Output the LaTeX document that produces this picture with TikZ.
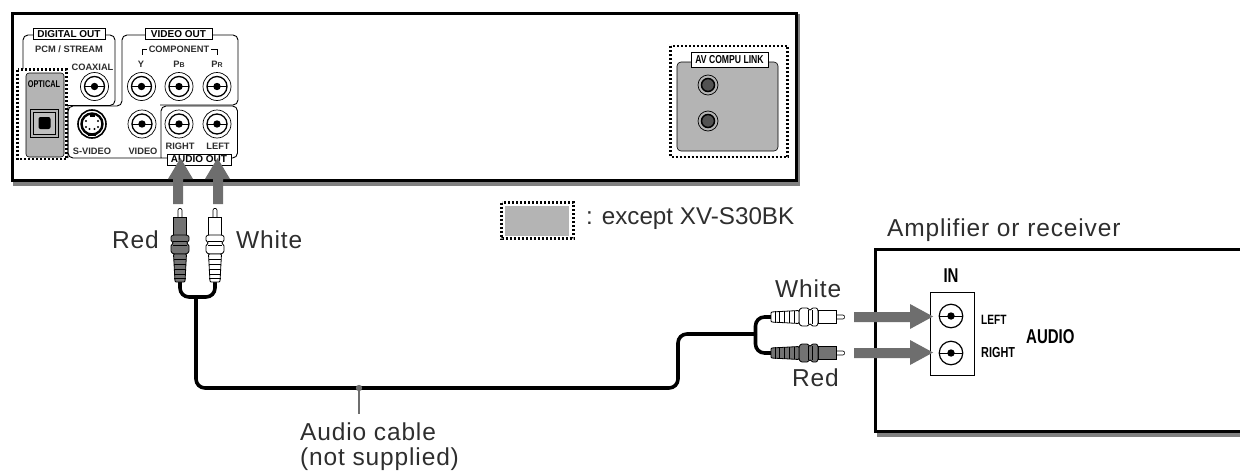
\documentclass[tikz,border=0pt]{standalone}
\usepackage{fontspec}
\setmainfont{Liberation Sans}
\newfontfamily\lblfont[LetterSpace=3.5]{Liberation Sans}
\newfontfamily\condfont[FakeStretch=0.75]{Liberation Sans Bold}
\newfontfamily\boldfont{Liberation Sans Bold}
\definecolor{panel}{HTML}{B4B4B4}
\definecolor{shade}{HTML}{808080}
\definecolor{arrowgray}{HTML}{6E6E6E}
\definecolor{lbl}{HTML}{2E2E2E}
\tikzset{
  biglabel/.style={font=\lblfont\fontsize{24.5}{26}\selectfont,text=lbl,inner sep=0pt},
  smalllabel/.style={font=\boldfont\fontsize{9.3}{10}\selectfont,text=lbl,inner sep=0pt},
  titlelabel/.style={font=\boldfont\fontsize{10}{11}\selectfont,draw=black,line width=0.7pt,fill=white,inner sep=0pt},
  condlabel/.style={font=\condfont,inner sep=0pt},
  framed/.style={draw=black,line width=0.9pt,rounded corners=5pt},
  dotbox/.style={draw=black,line width=2.2pt,dash pattern=on 2pt off 2pt},
  pointer/.style={fill=arrowgray,draw=none},
  cablewire/.style={draw=black,line width=3.6pt,rounded corners=9pt},
  devicebox/.style={draw=black,line width=3pt,fill=white},
  devicebox thin/.style={draw=black,line width=2.6pt,fill=white},
  devshadow/.style={fill=shade,draw=none},
}
\newcommand\rcajack[3]{%
  \node[circle,draw=black,line width=0.7pt,fill=white,minimum size=28pt,inner sep=0pt] (#1) at (#2,#3) {};
  \draw[line width=1.3pt,fill=white] (#1.center) circle[radius=10pt];
  \draw[line width=0.9pt] ([xshift=-10pt]#1.center) -- ([xshift=10pt]#1.center);
  \fill (#1.center) circle[radius=3.7pt];
}
\newcommand\ampjack[3]{%
  \node[circle,draw=black,line width=1.2pt,fill=white,minimum size=23.5pt,inner sep=0pt] (#1) at (#2,#3) {};
  \draw[line width=0.9pt] (#1.west) -- (#1.east);
  \fill (#1.center) circle[radius=3.7pt];
}
\newcommand\linkjack[3]{%
  \node[circle,draw=black,line width=0.7pt,fill=panel,minimum size=20pt,inner sep=0pt] (#1) at (#2,#3) {};
  \draw[line width=1.5pt,fill=black!68] (#1.center) circle[radius=6.5pt];
}
\tikzset{pics/rcaplug/.style={code={
  \draw[line width=0.6pt,fill=white,rounded corners=1pt] (-10,-2) -- (-1,-2) -- (0,0) -- (-1,2) -- (-10,2) -- cycle;
  \draw[line width=0.8pt,fill=#1] (-27,-6.5) rectangle (-9,6.5);
  \draw[line width=0.8pt,fill=#1,rounded corners=1pt] (-46,-6.5) -- (-44,-9) -- (-37,-9) -- (-36,-7) -- (-34,-7) -- (-33,-9) -- (-28,-9) -- (-27,-6.5) -- (-27,6.5) -- (-28,9) -- (-33,9) -- (-34,7) -- (-36,7) -- (-37,9) -- (-44,9) -- (-46,6.5) -- cycle;
  \draw[line width=0.8pt,fill=#1,rounded corners=1pt] (-46,-6.5) -- (-74,-5) -- (-74,5) -- (-46,6.5) -- cycle;
  \foreach \r in {-51,-56,-61,-66,-70}{\draw[line width=0.6pt] (\r,-5.6) -- (\r,5.6);}
  \draw[line width=0.5pt] (-37,-7) -- (-37,7) (-33,-7) -- (-33,7);
}}}
\begin{document}
\begin{tikzpicture}[x=1pt,y=-1pt]
\useasboundingbox (0,0) rectangle (1240,474);
\clip (0,0) rectangle (1240,474);

% ---- player
\fill[devshadow] (13,14) rectangle (800,186);
\node[devicebox,minimum width=784pt,minimum height=167pt,inner sep=0pt,anchor=north west] (player) at (10.5,11.5) {};

% frames
\draw[framed] (68,158) -- (68,106) -- (122,106) -- (122,35) -- (238,35) -- (238,105) -- (160,105);
\draw[framed] (23,110) -- (23,35) -- (115,35) -- (115,105.5) -- (68,105.5);
\draw[framed] (68,106) -- (68,158) -- (161,158);
\draw[framed] (161,158) -- (161,106) -- (237.5,106) -- (237.5,158) -- (161,158);

% optical
\fill[white] (17,69) rectangle (67,159);
\draw[black,line width=0.6pt,fill=panel,rounded corners=3pt] (26,73) rectangle (64,157);
\draw[dotbox] (17.5,69.5) rectangle (66.5,159);
\node[condlabel,font=\condfont\fontsize{9.8}{10}\selectfont] (optical) at (44,84) {OPTICAL};
\node[draw=black,line width=0.9pt,fill=panel,minimum size=28pt,inner sep=0pt] (optout) at (44.5,123) {};
\node[draw=black,line width=1pt,fill=black!25,minimum size=22pt,inner sep=0pt] (optmid) at (optout.center) {};
\node[fill=black,rounded corners=2pt,minimum size=12pt,inner sep=0pt] (optin) at (optout.center) {};

% labels of the digital / video groups
\node[titlelabel,minimum width=72pt,minimum height=11pt] (digitalout) at (69,34) {DIGITAL OUT};
\node[smalllabel] (pcm) at (69,49.5) {PCM / STREAM};
\node[smalllabel] (coaxial) at (92.5,67) {COAXIAL};
\node[titlelabel,minimum width=67pt,minimum height=11pt] (videoout) at (178.5,34) {VIDEO OUT};
\node[smalllabel] (component) at (179,49.5) {COMPONENT};
\draw[line width=0.8pt] (component.west) ++(-2,0) -| (142,55);
\draw[line width=0.8pt] (component.east) ++(2,0) -| (217,55);
\node[smalllabel] (ylabel) at (141,64) {Y};
\node[smalllabel] (pblabel) at (179,64) {P\fontsize{7}{8}\selectfont B};
\node[smalllabel] (prlabel) at (217,64) {P\fontsize{7}{8}\selectfont R};

\rcajack{coax}{94.5}{86.5}
\rcajack{yjack}{141.5}{86.5}
\rcajack{pbjack}{179}{86.5}
\rcajack{prjack}{217}{86.5}
\rcajack{videojack}{142}{124}
\rcajack{rightjack}{179}{124}
\rcajack{leftjack}{217}{124}

% S-video
\node[circle,draw=black,line width=1.6pt,fill=white,minimum size=28pt,inner sep=0pt] (svideo) at (92,124) {};
\draw[line width=2.4pt,fill=white] (svideo.center) circle[radius=10.5pt];
\fill[black] (89.5,113) rectangle (94.5,117);
\fill[black] (88,134) rectangle (96,136);
\foreach \dx/\dy in {-6/-3,6/-3,-6/3,6/3,-2.5/5,2.5/5}{\fill[black] (92+\dx,124+\dy) circle[radius=1.2pt];}

\node[smalllabel] (svlabel) at (92,151) {S-VIDEO};
\node[smalllabel] (vlabel) at (143,151) {VIDEO};
\node[smalllabel] (rlabel) at (180,146) {RIGHT};
\node[smalllabel] (llabel) at (218,146) {LEFT};
\node[titlelabel,minimum width=64pt,minimum height=11pt] (audioout) at (199,159.5) {AUDIO OUT};

% AV compu link
\fill[white] (670,46) rectangle (788,157);
\draw[black,line width=0.6pt,fill=panel,rounded corners=4pt] (677,62) rectangle (778,151);
\draw[dotbox] (670.5,46) rectangle (787.5,157);
\node[condlabel,font=\condfont\fontsize{11.5}{12}\selectfont,draw=black,line width=0.7pt,fill=white,minimum width=77pt,minimum height=15pt] (avlink) at (729.5,59.5) {AV COMPU LINK};
\linkjack{linka}{708}{85}
\linkjack{linkb}{708}{121}

% up arrows
\fill[pointer] (173,204) -- (173,179) -- (168,179) -- (180.5,158) -- (193,179) -- (183,179) -- (183,204) -- cycle;
\fill[pointer] (213,204) -- (213,179) -- (205,179) -- (217.5,158) -- (230,179) -- (223,179) -- (223,204) -- cycle;

% legend
\fill[panel] (505,206) rectangle (569,236);
\draw[dotbox] (501.5,202.5) rectangle (573.5,238.5);
\node[biglabel,font=\fontsize{24.2}{26}\selectfont,anchor=west] (except) at (586,219) {: except XV-S30BK};

% cable
\coordinate (plugRbase) at (180,282);
\coordinate (plugWbase) at (215,282);
\coordinate (plugLbase) at (771,317);
\coordinate (plugHbase) at (771,353);
\coordinate (yjoin) at (196,297);
\coordinate (bend1) at (678,388);
\coordinate (bend2) at (678,334);
\coordinate (hjoin) at (755.5,334);
\draw[cablewire] (plugRbase) |- (yjoin);
\draw[cablewire] (plugWbase) |- (yjoin);
\draw[cablewire] (yjoin) |- (bend1) -- (bend2) -- (hjoin);
\draw[cablewire] (plugLbase) -| (hjoin);
\draw[cablewire] (plugHbase) -| (hjoin);

\pic[rotate=90] at (180,208) {rcaplug=black!55};
\pic[rotate=90] at (215,208) {rcaplug=white};
\pic at (845,317) {rcaplug=white};
\pic at (845,353) {rcaplug=black!55};

% pointer of cable label
\coordinate (cabledot) at (359,388);
\coordinate (cableend) at (359,414);
\draw[arrowgray,line width=2pt] (cabledot) -- (cableend);
\fill[arrowgray] (cabledot) circle[radius=3.2pt];

% labels
\node[biglabel,anchor=west] (redA) at (112,240) {Red};
\node[biglabel,anchor=west] (whiteA) at (236,240) {White};
\node[biglabel,anchor=west] (whiteB) at (775,289) {White};
\node[biglabel,anchor=west] (redB) at (792,378) {Red};
\node[biglabel,anchor=west] (cableA) at (300,432) {Audio cable};
\node[biglabel,anchor=west] (cableB) at (300,459) {(not supplied)};
\node[biglabel,anchor=west] (amplabel) at (887,230) {Amplifier or receiver};

% ---- amplifier
\fill[devshadow] (877,251) rectangle (1245,437);
\node[devicebox thin,minimum width=380pt,minimum height=182pt,inner sep=0pt,anchor=north west] (amp) at (874,248) {};
\node[draw=black,line width=0.7pt,fill=white,minimum width=44pt,minimum height=83pt,inner sep=0pt] (inbox) at (952,333.5) {};
\ampjack{ampl}{951}{316}
\ampjack{ampr}{951}{353}
\node[condlabel,font=\condfont\fontsize{20}{21}\selectfont] (inlabel) at (951,276) {IN};
\node[condlabel,font=\condfont\fontsize{13.5}{14}\selectfont,anchor=west] (leftlabel) at (981,320) {LEFT};
\node[condlabel,font=\condfont\fontsize{14.5}{15}\selectfont,anchor=west] (rightlabel) at (981,353) {RIGHT};
\node[condlabel,font=\condfont\fontsize{20}{21}\selectfont,anchor=west] (audiolabel) at (1026,337) {AUDIO};

% right arrows
\fill[pointer] (854,312) -- (910,312) -- (910,304) -- (933,316.5) -- (910,329) -- (910,322) -- (854,322) -- cycle;
\fill[pointer] (854,348) -- (910,348) -- (910,340) -- (933,352.5) -- (910,365) -- (910,358) -- (854,358) -- cycle;
\end{tikzpicture}
\end{document}
